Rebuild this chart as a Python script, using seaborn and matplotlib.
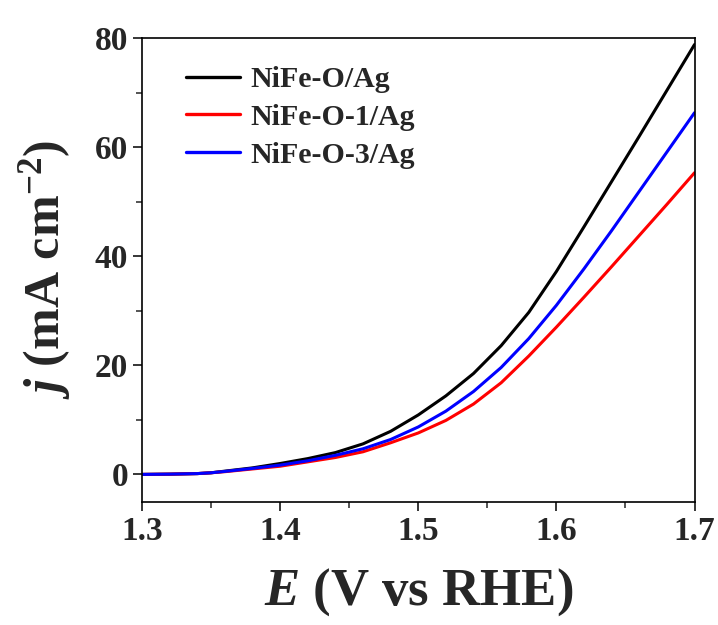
import numpy as np
import pandas as pd
import matplotlib
matplotlib.use("Agg")
import matplotlib.pyplot as plt
from matplotlib.ticker import MultipleLocator
import seaborn as sns

# ---- data ----
potential = [1.30, 1.32, 1.34, 1.35, 1.36, 1.38, 1.40, 1.42, 1.44, 1.46, 1.48,
             1.50, 1.52, 1.54, 1.56, 1.58, 1.60, 1.62, 1.64, 1.66, 1.68, 1.70]
j_nife_o = [0.0, 0.05, 0.15, 0.3, 0.6, 1.2, 2.0, 2.9, 4.0, 5.6, 7.9,
            10.9, 14.4, 18.5, 23.6, 29.7, 37.2, 45.4, 53.7, 62.0, 70.4, 78.8]
j_nife_o1 = [0.0, 0.05, 0.15, 0.3, 0.5, 1.0, 1.5, 2.3, 3.1, 4.15, 5.8,
             7.6, 9.9, 12.9, 16.8, 21.7, 27.0, 32.5, 38.1, 43.8, 49.5, 55.3]
j_nife_o3 = [0.0, 0.05, 0.15, 0.3, 0.55, 1.1, 1.7, 2.5, 3.5, 4.7, 6.4,
             8.7, 11.6, 15.2, 19.6, 24.9, 31.0, 37.7, 44.7, 51.9, 59.1, 66.3]
series_names = ["NiFe-O/Ag", "NiFe-O-1/Ag", "NiFe-O-3/Ag"]
series_colors = ["#000000", "#ff0000", "#0000ff"]
x_ticks = [1.3, 1.4, 1.5, 1.6, 1.7]
y_ticks = [0, 20, 40, 60, 80]

df = pd.concat([
    pd.DataFrame({"E": potential, "j": vals, "sample": name})
    for name, vals in zip(series_names, [j_nife_o, j_nife_o1, j_nife_o3])
], ignore_index=True)

sns.set_style("ticks")
plt.rcParams["font.family"] = ["Liberation Serif", "DejaVu Serif"]
plt.rcParams["font.weight"] = "bold"
plt.rcParams["mathtext.fontset"] = "custom"
plt.rcParams["mathtext.rm"] = "Liberation Serif:bold"
plt.rcParams["mathtext.it"] = "Liberation Serif:italic:bold"
plt.rcParams["mathtext.bf"] = "Liberation Serif:bold"

fig = plt.figure(figsize=(7.18, 6.25), dpi=100)
ax = fig.add_axes([0.1978, 0.1973, 0.9673 - 0.1978, 0.9392 - 0.1973])

sns.lineplot(data=df, x="E", y="j", hue="sample", hue_order=series_names,
             palette=series_colors, linewidth=2.2, ax=ax, sort=True,
             estimator=None)

ax.set_xlim(1.3, 1.7)
ax.set_ylim(-5, 80)
ax.set_xticks(x_ticks)
ax.set_yticks(y_ticks)
ax.set_xticklabels([f"{v:.1f}" for v in x_ticks])
ax.set_yticklabels([str(v) for v in y_ticks])
ax.xaxis.set_minor_locator(MultipleLocator(0.05))
ax.yaxis.set_minor_locator(MultipleLocator(10))

ax.tick_params(axis="both", which="major", direction="out", length=6.5,
               width=1.1, labelsize=24, pad=3.5, color="black",
               top=False, right=False)
ax.tick_params(axis="both", which="minor", direction="out", length=4,
               width=1.1, top=False, right=False)
for lab in ax.get_xticklabels() + ax.get_yticklabels():
    lab.set_fontweight("bold")

for sp in ax.spines.values():
    sp.set_visible(True)
    sp.set_linewidth(1.2)
    sp.set_color("black")

ax.set_xlabel(r"$E$ (V vs RHE)", fontsize=38, fontweight="bold", labelpad=14)
ax.set_ylabel(r"$j$ (mA cm$^{-2}$)", fontsize=36, fontweight="bold", labelpad=16)

leg = ax.legend(loc="upper left", frameon=False, fontsize=21.5,
                handlelength=1.8, handletextpad=0.35, labelspacing=0.36,
                borderaxespad=0.0, bbox_to_anchor=(0.058, 0.965))
for t in leg.get_texts():
    t.set_fontweight("bold")
for h in leg.get_lines():
    h.set_linewidth(2.4)

fig.savefig("out.png", dpi=100)
